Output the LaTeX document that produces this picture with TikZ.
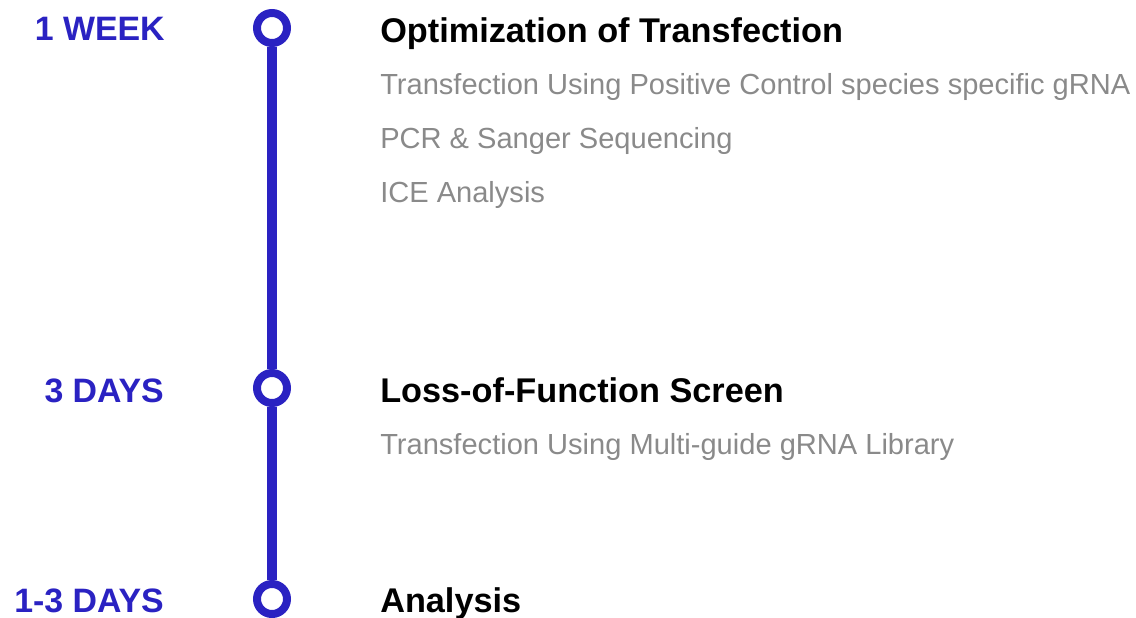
\documentclass[tikz,border=0pt]{standalone}
\usepackage{fontspec}
\setmainfont{Liberation Sans}
\definecolor{tlblue}{HTML}{2A22C2}
\definecolor{tlgray}{HTML}{8A8A8A}
\begin{document}
\begin{tikzpicture}[x=0.75pt, y=-0.75pt,
    ring/.style={circle, draw=tlblue, line width=6pt, fill=white, minimum size=22.5pt, inner sep=0pt},
    period/.style={anchor=base east, inner sep=0pt, text=tlblue, font=\fontsize{25.4}{30}\selectfont\bfseries},
    heading/.style={anchor=base west, inner sep=0pt, text=black, font=\fontsize{25.7}{30}\selectfont\bfseries},
    task/.style={anchor=base west, inner sep=0pt, text=tlgray, font=\fontsize{21.8}{26}\selectfont}]
    % Canvas
    \useasboundingbox (0,0) rectangle (1136,618);

    % Milestones on the time line
    \node[ring] (m1) at (272, 28) {};
    \node[ring] (m2) at (272, 388) {};
    \node[ring] (m3) at (272, 599) {};

    % Time line
    \draw[tlblue, line width=7.5pt] (m1.south) -- (m2.north);
    \draw[tlblue, line width=7.5pt] (m2.south) -- (m3.north);

    % Durations
    \node[period] (d1) at (165, 40) {1 WEEK};
    \node[period] (d2) at (164, 402) {3 DAYS};
    \node[period] (d3) at (164, 612) {1-3 DAYS};

    % Stage 1
    \node[heading] (h1) at (380, 42) {Optimization of Transfection};
    \node[task] (t11) at (380, 94) {Transfection Using Positive Control species specific gRNA};
    \node[task] (t12) at (380, 148) {PCR \& Sanger Sequencing};
    \node[task] (t13) at (380, 202) {ICE Analysis};

    % Stage 2
    \node[heading] (h2) at (380, 402) {Loss-of-Function Screen};
    \node[task] (t21) at (380, 454) {Transfection Using Multi-guide gRNA Library};

    % Stage 3
    \node[heading] (h3) at (380, 612) {Analysis};
\end{tikzpicture}
\end{document}
